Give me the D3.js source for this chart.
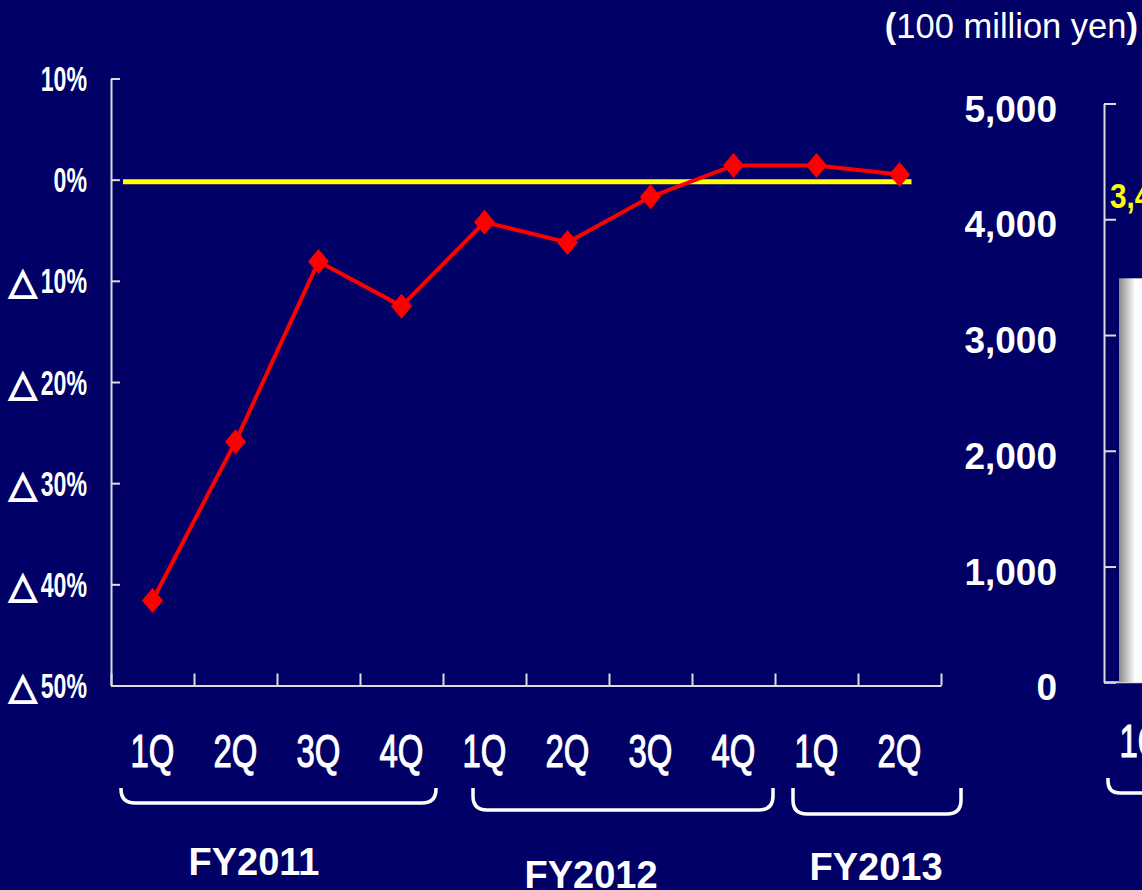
<!DOCTYPE html>
<html>
<head>
<meta charset="utf-8">
<script src="https://cdn.jsdelivr.net/npm/d3@7"></script>
<style>
  html, body { margin: 0; padding: 0; background: #000066; }
  svg { display: block; }
</style>
</head>
<body>
<svg id="chart" width="1142" height="890"></svg>
<script>
// Quarterly year-on-year change (%) by fiscal quarter
const quarters = ["1Q", "2Q", "3Q", "4Q", "1Q", "2Q", "3Q", "4Q", "1Q", "2Q"];
const changeRate = [-41.6, -25.9, -8.1, -12.5, -4.2, -6.2, -1.7, 1.4, 1.4, 0.5];
const fiscalYears = ["FY2011", "FY2012", "FY2013"];
const quartersPerYear = [4, 4, 2];
const rateTicks = [10, 0, -10, -20, -30, -40, -50];

// Amounts panel (100 million yen)
const amountQuarters = ["1Q"];
const amountValues = [3490];
const amountTicks = [0, 1000, 2000, 3000, 4000, 5000];
const unitLabel = "100 million yen";

const AXIS = "#dcdcdc";
const svg = d3.select("#chart");

// Gradient for the bar face
const defs = svg.append("defs");
const grad = defs.append("linearGradient").attr("id", "barFace")
  .attr("x1", "0%").attr("x2", "100%").attr("y1", "0%").attr("y2", "0%");
grad.append("stop").attr("offset", "0%").attr("stop-color", "#8a8a8a");
grad.append("stop").attr("offset", "36%").attr("stop-color", "#ffffff");
grad.append("stop").attr("offset", "100%").attr("stop-color", "#ffffff");

// ---------- Left panel: change rate ----------
const x = d3.scaleBand().domain(d3.range(quarters.length)).range([111, 941]);
const xEdge = d3.scaleLinear().domain([0, quarters.length]).range([111, 941]);
const y = d3.scaleLinear().domain([-50, 10]).range([685.5, 78.5]);

// Left axis: ticks point into the plot
const yAxis = d3.axisLeft(y).tickValues(rateTicks).tickSize(-9).tickSizeOuter(0).tickFormat("");
const gy = svg.append("g").attr("transform", `translate(${x.range()[0]},0)`).call(yAxis);
gy.select(".domain").attr("stroke", AXIS).attr("stroke-width", 2);
gy.selectAll(".tick line").attr("stroke", AXIS).attr("stroke-width", 2);

// Bottom axis: ticks at quarter boundaries, pointing up
const xAxis = d3.axisBottom(xEdge).tickValues(d3.range(quarters.length + 1)).tickSize(-12).tickSizeOuter(0).tickFormat("");
const gx = svg.append("g").attr("transform", `translate(0,${y(-50)})`).call(xAxis);
gx.select(".domain").attr("stroke", AXIS).attr("stroke-width", 2);
gx.selectAll(".tick line").attr("stroke", AXIS).attr("stroke-width", 2);

// Narrow label helper (horizontally compressed glyphs)
function narrowText(parent, tx, ty, str, opts) {
  const t = parent.append("text")
    .attr("transform", `translate(${tx},${ty}) scale(${opts.sx},1)`)
    .attr("text-anchor", opts.anchor || "start")
    .attr("font-family", "'Liberation Sans', Arial, sans-serif")
    .attr("font-weight", opts.weight || "bold")
    .attr("font-size", opts.size)
    .attr("fill", opts.fill || "#fff")
    .text(str);
  if (opts.stroke) {
    t.attr("stroke", opts.fill || "#fff").attr("stroke-width", opts.stroke);
  }
  return t;
}

// Tick labels; negatives are written with a triangle mark
const labelRight = 87;
rateTicks.forEach(v => {
  const ty = y(v) + 12.5;
  const num = Math.abs(v) + "%";
  const t = narrowText(svg, labelRight, ty, num, { sx: 0.66, size: 35, anchor: "end" });
  if (v < 0) {
    const w = t.node().getComputedTextLength() * 0.66;
    svg.append("text")
      .attr("x", labelRight - w - 4).attr("y", ty + 1)
      .attr("text-anchor", "end")
      .attr("font-family", "'DejaVu Sans', sans-serif")
      .attr("font-size", 36)
      .attr("fill", "#fff")
      .attr("stroke", "#fff").attr("stroke-width", 1.8)
      .text("\u25B3");
  }
});

// Zero reference line
svg.append("line")
  .attr("x1", x(0) + 12).attr("x2", x(quarters.length - 1) + x.bandwidth() / 2 + 12)
  .attr("y1", y(0) + 2).attr("y2", y(0) + 2)
  .attr("stroke", "#ffff00").attr("stroke-width", 5);

// Change-rate line with diamond markers
const cx = i => x(i) + x.bandwidth() / 2;
svg.append("path")
  .datum(changeRate)
  .attr("fill", "none").attr("stroke", "#ff0000").attr("stroke-width", 4)
  .attr("stroke-linejoin", "round")
  .attr("d", d3.line().x((d, i) => cx(i)).y(d => y(d)));
svg.selectAll("path.marker").data(changeRate).join("path")
  .attr("class", "marker")
  .attr("transform", (d, i) => `translate(${cx(i)},${y(d)})`)
  .attr("d", "M0,-12.5L10.5,0L0,12.5L-10.5,0Z")
  .attr("fill", "#ff0000");

// Quarter labels
quarters.forEach((q, i) => {
  narrowText(svg, cx(i), 767, q, { sx: 0.7, size: 47, anchor: "middle", weight: "normal", stroke: 1.2 });
});

// Fiscal-year braces and labels
const braceLayout = [
  { l: 10, r: -7, bottom: 803, dx: -23, base: 875 },
  { l: 30, r: -2, bottom: 810, dx: -18, base: 888 },
  { l: 18, r: 20, bottom: 814, dx: 18, base: 880 }
];
function bracePath(x1, x2, top, bottom, r) {
  return `M${x1},${top}L${x1},${bottom - r}Q${x1},${bottom} ${x1 + r},${bottom}` +
         `L${x2 - r},${bottom}Q${x2},${bottom} ${x2},${bottom - r}L${x2},${top}`;
}
let start = 0;
fiscalYears.forEach((fy, k) => {
  const n = quartersPerYear[k];
  const L = braceLayout[k];
  const x1 = xEdge(start) + L.l, x2 = xEdge(start + n) + L.r;
  svg.append("path")
    .attr("d", bracePath(x1, x2, 788, L.bottom, 14))
    .attr("fill", "none").attr("stroke", "#fff").attr("stroke-width", 3.5);
  svg.append("text")
    .attr("x", (xEdge(start) + xEdge(start + n)) / 2 + L.dx).attr("y", L.base)
    .attr("text-anchor", "middle")
    .attr("font-family", "'Liberation Sans', Arial, sans-serif")
    .attr("font-weight", "bold").attr("font-size", 38)
    .attr("fill", "#fff").text(fy);
  start += n;
});

// ---------- Right panel: amounts ----------
const yR = d3.scaleLinear().domain([0, 5000]).range([682.3, 103.5]);
const xR = d3.scaleBand().domain(amountQuarters).range([1119, 1164]);
const axisX = 1104;

const yAxisR = d3.axisLeft(yR).tickValues(amountTicks).tickSize(-12).tickSizeOuter(0).tickFormat("");
const gyR = svg.append("g").attr("transform", `translate(${axisX},0)`).call(yAxisR);
gyR.select(".domain").attr("stroke", AXIS).attr("stroke-width", 2);
gyR.selectAll(".tick line").attr("stroke", AXIS).attr("stroke-width", 2);

svg.append("line")
  .attr("x1", axisX).attr("x2", 1142).attr("y1", yR(0)).attr("y2", yR(0))
  .attr("stroke", AXIS).attr("stroke-width", 2);

amountTicks.forEach(v => {
  svg.append("text")
    .attr("x", 1057).attr("y", yR(v) + 18)
    .attr("text-anchor", "end")
    .attr("font-family", "'Liberation Sans', Arial, sans-serif")
    .attr("font-weight", "bold").attr("font-size", 37)
    .attr("fill", "#fff")
    .text(d3.format(",")(v));
});

svg.selectAll("rect.amount").data(amountValues).join("rect")
  .attr("class", "amount")
  .attr("x", (d, i) => xR(amountQuarters[i]))
  .attr("width", xR.bandwidth())
  .attr("y", d => yR(d))
  .attr("height", d => yR(0) - yR(d))
  .attr("fill", "url(#barFace)");

amountValues.forEach((v, i) => {
  narrowText(svg, xR(amountQuarters[i]) - 9, yR(v) - 70, d3.format(",")(v),
    { sx: 0.85, size: 35, fill: "#ffff00" });
  narrowText(svg, xR(amountQuarters[i]) + xR.bandwidth() / 2, 757, amountQuarters[i],
    { sx: 0.7, size: 47, anchor: "middle", weight: "normal", stroke: 1.2 });
});

svg.append("path")
  .attr("d", `M1108,778L1108,${793 - 12}Q1108,793 1120,793L1160,793`)
  .attr("fill", "none").attr("stroke", "#fff").attr("stroke-width", 3.5);

// Unit caption
const unit = svg.append("text")
  .attr("x", 1138).attr("y", 38)
  .attr("text-anchor", "end")
  .attr("font-family", "'Liberation Sans', Arial, sans-serif")
  .attr("font-size", 34.5)
  .attr("fill", "#fff");
unit.append("tspan").attr("font-weight", "bold").text("(");
unit.append("tspan").text(unitLabel);
unit.append("tspan").attr("font-weight", "bold").text(")");
</script>
</body>
</html>
